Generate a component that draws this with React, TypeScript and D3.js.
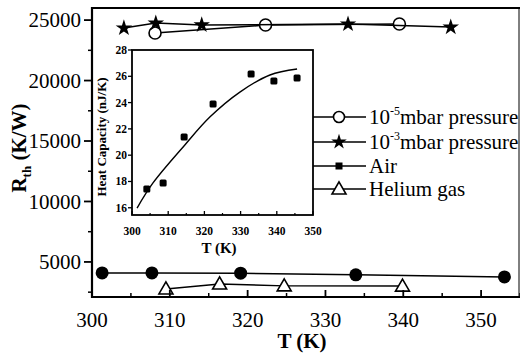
import React from "react";
import * as d3 from "d3";

// main plot: thermal resistance vs temperature
const vac5T = [308.1, 322.3, 339.5];
const vac5R = [23930, 24590, 24680];
const vac3T = [304.1, 308.2, 314.1, 332.9, 346.1];
const vac3R = [24340, 24750, 24590, 24670, 24420];
const airT = [301.3, 307.7, 319.1, 333.9, 353.0];
const airR = [4090, 4090, 4070, 3930, 3760];
const heliumT = [309.5, 316.4, 324.7, 339.9];
const heliumR = [2770, 3180, 3020, 3000];

const xTicks = [300, 310, 320, 330, 340, 350];
const xMinor = [305, 315, 325, 335, 345, 355];
const yTicks = [5000, 10000, 15000, 20000, 25000];
const yMinor = [2500, 7500, 12500, 17500, 22500];

// inset: heat capacity
const heatT = [304.1, 308.6, 314.4, 322.4, 332.9, 339.2, 345.6];
const heatC = [17.43, 17.89, 21.38, 23.9, 26.17, 25.64, 25.87];
const fitT = [301.4, 305.8, 314.6, 321.5, 329.8, 338.1, 345.6];
const fitC = [15.98, 17.89, 20.78, 22.9, 24.8, 26.1, 26.55];
const insetXTicks = [300, 310, 320, 330, 340, 350];
const insetXMinor = [305, 315, 325, 335, 345];
const insetYTicks = [16, 18, 20, 22, 24, 26, 28];

const legendItems = ["vac5", "vac3", "air", "helium"];

const serif = { fontFamily: '"Liberation Serif"' };

const zip = (a: number[], b: number[]) => a.map((v, i) => [v, b[i]] as [number, number]);

export default function App() {
  const x = d3.scaleLinear().domain([300, 355]).range([92, 520]);
  const y = d3.scaleLinear().domain([2100, 26000]).range([297, 8]);

  const ix = d3.scaleLinear().domain([300, 350]).range([132, 313]);
  const iy = d3.scaleLinear().domain([15.45, 28]).range([215, 50]);

  const line = d3
    .line<[number, number]>()
    .x((d) => x(d[0]))
    .y((d) => y(d[1]));

  const fitLine = d3
    .line<[number, number]>()
    .x((d) => ix(d[0]))
    .y((d) => iy(d[1]))
    .curve(d3.curveCatmullRom);

  const star = d3.symbol().type(d3.symbolStar).size(85)();
  const starSmall = d3.symbol().type(d3.symbolStar).size(75)();
  const tri = d3.symbol().type(d3.symbolTriangle).size(85)();

  const marker = (kind: string, cx: number, cy: number, key: any, legend = false) => {
    if (kind === "vac5")
      return <circle key={key} cx={cx} cy={cy} r={legend ? 5.5 : 6} fill="white" stroke="black" strokeWidth={1.6} />;
    if (kind === "vac3")
      return <path key={key} d={legend ? starSmall : star} transform={`translate(${cx},${cy})`} fill="black" />;
    if (kind === "air")
      return legend ? (
        <rect key={key} x={cx - 3.5} y={cy - 3.5} width={7} height={7} fill="black" />
      ) : (
        <circle key={key} cx={cx} cy={cy} r={6.5} fill="black" />
      );
    return <path key={key} d={tri} transform={`translate(${cx},${cy + 1})`} fill="white" stroke="black" strokeWidth={1.6} />;
  };

  const series = [
    { kind: "vac5", pts: zip(vac5T, vac5R) },
    { kind: "vac3", pts: zip(vac3T, vac3R) },
    { kind: "air", pts: zip(airT, airR) },
    { kind: "helium", pts: zip(heliumT, heliumR) },
  ];

  const legendY = [117, 142, 166, 189];

  return (
    <svg width={520} height={356} style={{ position: "absolute", left: 0, top: 0, background: "white" }}>
      <rect width={520} height={356} fill="white" />

      {/* main series */}
      {series.map((s) => (
        <g key={s.kind}>
          <path d={line(s.pts) || ""} fill="none" stroke="black" strokeWidth={1.5} />
          {s.pts.map((p, i) => marker(s.kind, x(p[0]), y(p[1]), i))}
        </g>
      ))}

      {/* main frame */}
      <line x1={92} x2={520} y1={8} y2={8} stroke="black" strokeWidth={2.2} />
      <line x1={519} x2={519} y1={8} y2={297} stroke="black" strokeWidth={1} />
      <line x1={92} x2={520} y1={297} y2={297} stroke="black" strokeWidth={2.2} />
      <line x1={92} x2={92} y1={7} y2={298} stroke="black" strokeWidth={2.2} />

      {/* y axis */}
      {yTicks.map((t) => (
        <g key={t}>
          <line x1={84} x2={92} y1={y(t)} y2={y(t)} stroke="black" strokeWidth={1.8} />
          <text x={81} y={y(t)} dy="0.35em" textAnchor="end" fontSize={21} style={serif}>
            {t}
          </text>
        </g>
      ))}
      {yMinor.map((t) => (
        <line key={t} x1={88} x2={92} y1={y(t)} y2={y(t)} stroke="black" strokeWidth={1.5} />
      ))}

      {/* x axis */}
      {xTicks.map((t) => (
        <g key={t}>
          <line x1={x(t)} x2={x(t)} y1={297} y2={290} stroke="black" strokeWidth={1.8} />
          <text x={x(t)} y={327} textAnchor="middle" fontSize={21} style={serif}>
            {t}
          </text>
        </g>
      ))}
      {xMinor.map((t) => (
        <line key={t} x1={x(t)} x2={x(t)} y1={297} y2={293} stroke="black" strokeWidth={1.5} />
      ))}

      <text x={302} y={348} textAnchor="middle" fontSize={21} fontWeight="bold" style={serif}>
        T (K)
      </text>
      <text transform="translate(26,148) rotate(-90)" textAnchor="middle" fontSize={21} fontWeight="bold" style={serif}>
        R<tspan fontSize={13} dy={5}>th</tspan>
        <tspan dy={-5}> (K/W)</tspan>
      </text>

      {/* inset */}
      <rect x={132} y={50} width={181} height={165} fill="white" stroke="black" strokeWidth={1.8} />
      <path d={fitLine(zip(fitT, fitC)) || ""} fill="none" stroke="black" strokeWidth={1.4} />
      {heatT.map((t, i) => (
        <rect key={i} x={ix(t) - 3.5} y={iy(heatC[i]) - 3.5} width={7} height={7} rx={1.5} fill="black" />
      ))}
      {insetXTicks.map((t) => (
        <g key={t}>
          <line x1={ix(t)} x2={ix(t)} y1={215} y2={211} stroke="black" strokeWidth={1.3} />
          <text x={ix(t)} y={235} textAnchor="middle" fontSize={11.5} fontWeight="bold" style={serif}>
            {t}
          </text>
        </g>
      ))}
      {insetXMinor.map((t) => (
        <line key={t} x1={ix(t)} x2={ix(t)} y1={215} y2={213} stroke="black" strokeWidth={1.2} />
      ))}
      {insetYTicks.map((t) => (
        <g key={t}>
          <line x1={128} x2={132} y1={iy(t)} y2={iy(t)} stroke="black" strokeWidth={1.3} />
          <text x={127} y={iy(t)} dy="0.35em" textAnchor="end" fontSize={11.5} fontWeight="bold" style={serif}>
            {t}
          </text>
        </g>
      ))}
      <text x={219} y={253} textAnchor="middle" fontSize={15} fontWeight="bold" style={serif}>
        T (K)
      </text>
      <text transform="translate(106,137) rotate(-90)" textAnchor="middle" fontSize={13} fontWeight="bold" style={serif}>
        Heat Capacity (nJ/K)
      </text>

      {/* legend */}
      {legendItems.map((k, i) => (
        <g key={k}>
          <line x1={313} x2={366} y1={legendY[i]} y2={legendY[i]} stroke="black" strokeWidth={1.5} />
          {marker(k, 339, legendY[i], "m", true)}
        </g>
      ))}
      <text x={369} y={legendY[0] + 7} fontSize={21} style={serif}>
        10<tspan fontSize={12} dy={-9}>-5</tspan>
        <tspan dy={9}>mbar pressure</tspan>
      </text>
      <text x={369} y={legendY[1] + 7} fontSize={21} style={serif}>
        10<tspan fontSize={12} dy={-9}>-3</tspan>
        <tspan dy={9}>mbar pressure</tspan>
      </text>
      <text x={369} y={legendY[2] + 7} fontSize={21} style={serif}>
        Air
      </text>
      <text x={369} y={legendY[3] + 7} fontSize={21} style={serif}>
        Helium gas
      </text>
    </svg>
  );
}
